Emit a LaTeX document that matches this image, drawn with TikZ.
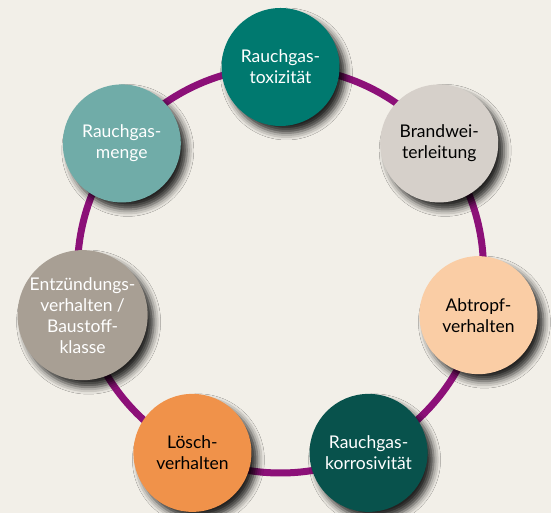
\documentclass[tikz,border=0pt]{standalone}
\usepackage{fontspec}
\setmainfont{Lato}
\usetikzlibrary{calc,shadows.blur}
\definecolor{fond}{RGB}{242,239,232}
\definecolor{violetanneau}{RGB}{140,16,120}
\definecolor{tealfonce}{RGB}{0,121,111}
\definecolor{grisclair}{RGB}{214,208,202}
\definecolor{peche}{RGB}{250,205,165}
\definecolor{vertfonce}{RGB}{8,82,76}
\definecolor{orange}{RGB}{240,146,74}
\definecolor{grisbrun}{RGB}{168,159,148}
\definecolor{tealclair}{RGB}{112,172,168}

\begin{document}
\begin{tikzpicture}[x=1pt,y=1pt]
    % Cercle des propriétés au feu

    %
    % Définitions
    %
    \pgfmathsetmacro{\xc}{280.5};%
    \pgfmathsetmacro{\yc}{243};%
    \pgfmathsetmacro{\rr}{203};%
    \pgfmathsetmacro{\da}{360/7};%

    %
    % Styles
    %
    \tikzset{anneau/.style={draw=violetanneau,line width=7pt}};%
    \tikzset{bulle/.style={circle,minimum size=118pt,inner sep=0pt,%
        align=center,font=\fontsize{17.5}{21}\selectfont,%
        blur shadow={shadow xshift=6pt,shadow yshift=-7pt,%
        shadow blur radius=7pt,shadow opacity=85}}};%

    %
    % Coordonnées
    %
    \coordinate (orig) at (0,0);
    \coordinate (coin) at (551,513);%
    \coordinate (centre) at (\xc,\yc);%

    % Centres des bulles
    \coordinate (ptox) at ($(centre)+(90:\rr)$);%
    \coordinate (pbrand) at ($(centre)+(90-\da:\rr)$);%
    \coordinate (pabtr) at ($(centre)+(90-2*\da:\rr)$);%
    \coordinate (pkorr) at ($(centre)+(90-3*\da:\rr)$);%
    \coordinate (ploesch) at ($(centre)+(90-4*\da:\rr)$);%
    \coordinate (pentz) at ($(centre)+(90-5*\da:\rr)$);%
    \coordinate (pmenge) at ($(centre)+(90-6*\da:\rr)$);%

    %
    % Dessin
    %
    \fill[fond] (orig) rectangle (coin);%
    \useasboundingbox (orig) rectangle (coin);%

    % Anneau
    \draw[anneau] (centre) circle[radius=\rr];%

    % Bulles
    \node[bulle,fill=tealfonce,text=white] (tox) at (ptox)
    {Rauchgas-\\toxizität};%
    \node[bulle,fill=grisclair,text=black] (brand) at (pbrand)
    {Brandwei-\\terleitung};%
    \node[bulle,fill=peche,text=black] (abtr) at (pabtr)
    {Abtropf-\\verhalten};%
    \node[bulle,fill=vertfonce,text=white] (korr) at (pkorr)
    {Rauchgas-\\korrosivität};%
    \node[bulle,fill=orange,text=black] (loesch) at (ploesch)
    {Lösch-\\verhalten};%
    \node[bulle,fill=grisbrun,text=white] (entz) at (pentz)
    {Entzündungs-\\verhalten /\\Baustoff-\\klasse};%
    \node[bulle,fill=tealclair,text=white] (menge) at (pmenge)
    {Rauchgas-\\menge};%

\end{tikzpicture}
\end{document}
